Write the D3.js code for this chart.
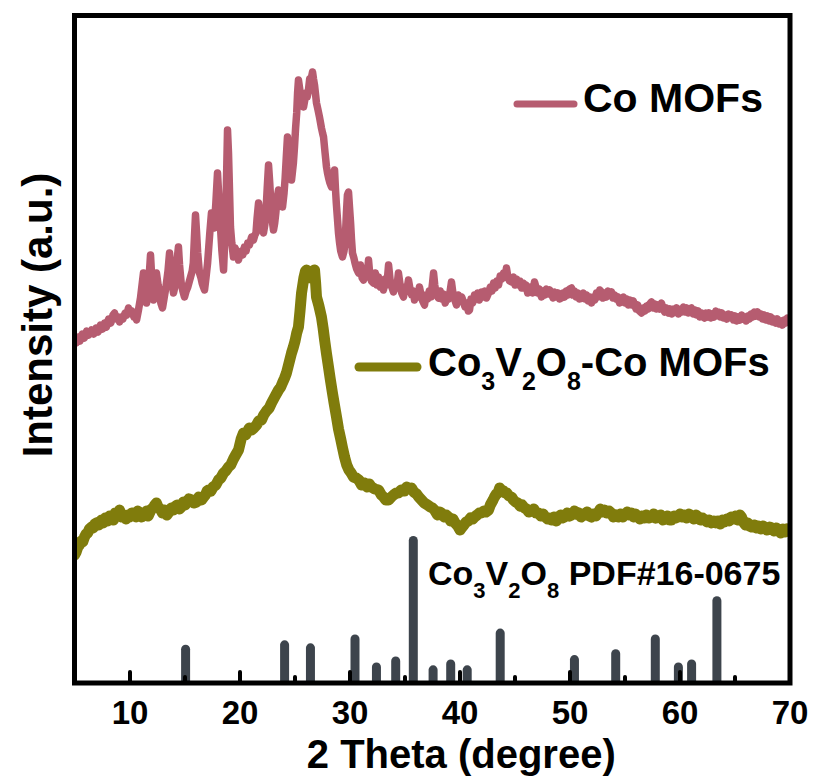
<!DOCTYPE html>
<html><head><meta charset="utf-8">
<script src="https://cdn.jsdelivr.net/npm/d3@7"></script>
<style>body{margin:0;background:#fff}svg{display:block}text{font-family:"Liberation Sans",Arial,sans-serif;font-weight:bold;fill:#000}</style>
</head><body>
<svg id="c" width="816" height="780"></svg>
<script>
// ---- DATA ----
const xTicks = [10, 20, 30, 40, 50, 60, 70];
const xMinorTicks = [15, 25, 35, 45, 55, 65];
const seriesNames = ["Co MOFs", "Co3V2O8-Co MOFs"];
// Co MOFs pattern: [2theta, intensity (a.u.)]
const coMOFs = [
[5.0,345],[5.15,340],[5.34,346],[5.5,342],[5.7,349],[5.9,345],[6.1,352],[6.3,348],[6.55,353],[6.75,349],[6.95,355],[7.15,351],[7.35,358],[7.55,354],
[7.73,360],[7.9,356],[8.1,364],[8.3,360],[8.5,368],[8.64,370],[8.8,364],[8.95,366],[9.09,361],[9.25,366],[9.4,364],[9.6,370],[9.75,368],[9.91,375],
[10.05,370],[10.2,372],[10.4,366],[10.5,368],[10.64,363],[10.8,372],
[11.0,385],[11.27,410],[11.4,392],[11.55,380],[11.75,400],[11.91,428],[12.05,400],[12.18,383],[12.3,395],[12.45,410],[12.6,398],[12.7,392],[12.85,380],[13.0,375],
[13.15,385],[13.3,395],[13.5,412],[13.64,430],[13.8,405],[14.0,390],[14.1,395],[14.2,400],[14.3,420],[14.45,436],[14.55,418],
[14.7,400],[14.85,392],[15.0,386],[15.15,392],[15.3,396],[15.45,402],[15.55,406],[15.7,412],[15.8,420],[15.9,445],[16.0,468],[16.1,450],[16.2,430],[16.36,410],
[16.5,405],[16.6,400],[16.72,396],[16.82,393],[16.95,405],[17.1,420],[17.3,450],[17.45,470],[17.6,462],[17.7,455],[17.85,480],[18.0,510],
[18.15,480],[18.27,456],[18.4,432],[18.55,413],[18.65,440],[18.75,470],[18.85,520],[18.91,553],[19.0,530],[19.05,510],[19.18,456],[19.3,440],[19.45,426],
[19.6,435],[19.7,432],[19.8,428],[19.91,423],[20.05,430],[20.2,432],[20.3,428],[20.45,436],[20.6,432],[20.75,440],[20.9,438],[21.1,446],[21.27,443],
[21.4,448],[21.5,450],[21.6,465],[21.73,480],[21.85,470],[21.95,462],[22.05,455],[22.18,450],[22.3,458],[22.4,470],[22.52,495],[22.64,518],[22.75,500],[22.85,480],
[22.95,465],[23.09,453],[23.2,460],[23.3,470],[23.42,485],[23.55,493],[23.65,488],[23.75,482],[23.91,476],[24.05,490],[24.15,505],[24.25,525],
[24.36,546],[24.45,532],[24.55,520],[24.65,510],[24.73,503],[24.82,512],[24.9,520],[25.0,536],[25.1,555],[25.2,570],[25.28,590],[25.36,603],[25.5,592],
[25.6,585],[25.72,580],[25.82,576],[25.95,584],[26.05,590],[26.15,586],[26.27,593],[26.38,604],[26.45,600],[26.55,606],[26.64,611],
[26.73,604],[26.82,598],[26.92,588],[27.0,580],[27.12,574],[27.27,566],[27.37,560],[27.45,555],[27.55,550],[27.64,546],[27.78,530],[27.91,516],[28.0,510],[28.1,505],
[28.22,500],[28.36,496],[28.5,505],[28.64,513],[28.72,495],[28.8,480],[28.9,465],[29.0,450],[29.1,440],[29.2,432],[29.36,426],
[29.5,432],[29.6,440],[29.72,470],[29.81,488],[29.91,491],[30.0,476],[30.1,460],[30.18,444],[30.27,430],[30.4,425],[30.5,420],[30.65,414],[30.82,410],
[31.0,418],[31.15,405],[31.27,403],[31.45,414],[31.6,406],[31.73,423],[31.85,408],[32.0,402],[32.18,400],[32.35,410],[32.5,398],[32.64,406],[32.8,396],
[32.95,400],[33.09,393],[33.25,404],[33.4,398],[33.55,418],[33.7,402],[33.85,396],[34.0,391],[34.15,400],[34.3,395],[34.45,410],[34.6,398],[34.75,390],
[34.91,386],[35.05,396],[35.2,392],[35.36,403],[35.5,394],[35.65,388],[35.8,392],[35.91,383],[36.05,390],[36.2,386],[36.36,396],[36.5,388],[36.65,382],
[36.82,378],[36.95,388],[37.1,384],[37.25,392],[37.4,386],[37.55,400],[37.64,410],[37.75,398],[37.9,388],[38.09,385],[38.25,392],[38.4,384],[38.55,389],
[38.7,380],[38.85,386],[39.0,384],[39.15,392],[39.27,401],[39.4,390],[39.55,384],[39.73,378],[39.9,388],[40.05,382],[40.2,386],[40.36,381],[40.5,376],
[40.65,380],[40.8,372],[40.91,373],[41.05,384],[41.2,380],[41.36,388],[41.5,384],[41.65,390],[41.8,383],[42.0,391],[42.15,386],[42.3,392],[42.45,385],
[42.64,390],[42.8,396],[42.95,392],[43.1,400],[43.25,395],[43.4,402],[43.55,398],[43.7,407],[43.85,404],[44.0,410],[44.15,406],[44.27,415],[44.4,406],
[44.55,402],[44.73,401],[44.9,406],[45.05,398],[45.2,404],[45.36,398],[45.5,402],[45.65,395],[45.8,400],[45.91,395],[46.05,398],[46.2,390],[46.35,394],
[46.5,396],[46.65,390],[46.82,401],[46.95,396],[47.1,390],[47.25,394],[47.45,386],[47.6,392],[47.75,388],[47.9,394],[48.05,389],[48.2,393],[48.36,390],
[48.5,385],[48.65,391],[48.8,386],[48.95,390],[49.1,384],[49.27,385],[49.4,390],[49.55,386],[49.7,392],[49.85,388],[50.0,394],[50.18,395],[50.3,388],
[50.45,392],[50.6,386],[50.75,390],[50.9,384],[51.09,385],[51.25,390],[51.4,384],[51.55,388],[51.7,382],[51.85,386],[52.0,380],[52.15,386],[52.3,383],
[52.45,390],[52.6,386],[52.75,393],[52.91,391],[53.05,385],[53.2,390],[53.35,386],[53.5,392],[53.65,388],[53.82,391],[53.95,385],[54.1,388],[54.25,384],
[54.4,386],[54.55,380],[54.73,381],[54.9,386],[55.05,380],[55.2,384],[55.35,378],[55.5,383],[55.65,378],[55.8,382],[55.91,378],[56.05,374],[56.2,378],
[56.35,372],[56.55,370],[56.7,375],[56.85,372],[57.0,377],[57.15,374],[57.3,379],[57.45,381],[57.6,375],[57.75,379],[57.9,374],[58.05,378],[58.2,374],
[58.36,380],[58.5,375],[58.65,371],[58.8,375],[59.0,370],[59.15,374],[59.3,369],[59.45,374],[59.6,371],[59.75,375],[59.9,369],[60.05,373],[60.18,371],
[60.35,376],[60.5,371],[60.65,375],[60.8,370],[60.95,374],[61.09,375],[61.25,369],[61.4,373],[61.55,368],[61.7,372],[61.85,366],[62.0,370],[62.15,366],
[62.27,365],[62.4,370],[62.55,366],[62.7,370],[62.85,365],[63.0,369],[63.15,366],[63.3,372],[63.45,368],[63.55,371],[63.7,366],[63.85,370],[64.0,365],
[64.15,368],[64.3,364],[64.45,369],[64.6,366],[64.73,368],[64.9,363],[65.05,367],[65.2,362],[65.35,366],[65.5,363],[65.65,368],[65.8,364],[65.91,366],
[66.05,362],[66.2,367],[66.35,364],[66.5,369],[66.65,366],[66.8,371],[66.95,367],[67.1,371],[67.25,366],[67.4,369],[67.55,364],[67.7,368],[67.85,363],
[68.0,367],[68.15,362],[68.3,366],[68.45,361],[68.6,364],[68.75,360],[68.9,364],[69.05,359],[69.2,362],[69.35,358],[69.5,363],[69.65,360],[69.8,365],[70.0,362]
];
// Co3V2O8-Co MOFs pattern
const co3v2o8CoMOFs = [
[5.0,128],[5.15,131],[5.3,136],[5.45,138],[5.6,142],[5.75,141],[5.91,146],[6.05,149],[6.2,150],[6.35,154],[6.55,156],[6.7,155],[6.85,159],[7.0,160],
[7.2,158],[7.45,163],[7.6,160],[7.8,165],[8.0,162],[8.2,167],[8.36,166],[8.55,163],[8.7,170],[8.9,168],[9.09,173],[9.3,166],[9.5,168],[9.7,164],
[9.85,168],[10.0,166],[10.2,170],[10.45,170],[10.6,166],[10.75,172],[10.91,170],[11.1,166],[11.35,168],[11.55,172],[11.7,167],[11.82,170],[12.0,174],
[12.15,175],[12.3,178],[12.45,180],[12.6,176],[12.8,174],[13.0,170],[13.18,173],[13.4,168],[13.6,171],[13.8,175],[14.0,173],[14.2,177],[14.35,178],
[14.55,174],[14.73,176],[14.9,181],[15.05,178],[15.2,180],[15.4,184],[15.64,183],[15.85,180],[16.1,181],[16.3,186],[16.55,183],[16.75,186],[16.9,188],
[17.05,192],[17.18,193],[17.4,192],[17.6,196],[17.85,198],[18.09,203],[18.3,205],[18.55,210],[18.75,212],[19.0,216],[19.2,218],[19.45,224],[19.65,228],
[19.91,233],[20.15,244],[20.36,250],[20.55,248],[20.7,251],[20.9,255],[21.09,253],[21.3,255],[21.55,258],[21.75,262],[22.0,263],[22.2,268],[22.45,272],
[22.7,275],[22.91,280],[23.2,286],[23.55,293],[23.75,296],[23.9,300],[24.1,305],[24.27,310],[24.5,320],[24.73,330],[24.9,336],[25.05,342],[25.2,350],
[25.36,356],[25.5,372],[25.64,390],[25.85,405],[26.0,412],[26.09,413],[26.3,409],[26.45,405],[26.55,406],[26.7,412],[26.82,413],[26.92,400],[27.0,386],
[27.2,378],[27.45,366],[27.6,355],[27.75,342],[27.9,330],[28.09,316],[28.25,304],[28.45,290],[28.6,280],[28.82,266],[29.0,254],[29.2,244],[29.35,236],
[29.55,226],[29.75,218],[29.95,213],[30.15,210],[30.36,206],[30.6,205],[30.85,203],[31.1,198],[31.36,200],[31.6,196],[31.8,199],[32.0,196],[32.3,194],
[32.64,193],[32.9,188],[33.1,186],[33.3,183],[33.55,183],[33.8,186],[34.0,188],[34.25,190],[34.45,190],[34.7,193],[35.0,192],[35.2,196],[35.4,194],
[35.64,195],[35.85,191],[36.1,189],[36.3,186],[36.55,183],[36.8,180],[37.1,178],[37.35,176],[37.55,175],[37.73,173],[38.0,168],[38.2,171],[38.35,170],
[38.6,166],[38.8,168],[39.0,166],[39.2,162],[39.4,164],[39.6,160],[39.85,157],[40.05,153],[40.18,155],[40.4,158],[40.6,161],[40.8,162],[41.0,165],
[41.2,164],[41.36,166],[41.6,168],[41.8,170],[42.0,170],[42.2,172],[42.4,171],[42.64,173],[42.8,178],[42.9,180],[43.05,183],[43.18,186],[43.35,189],
[43.5,190],[43.65,195],[43.82,193],[44.0,192],[44.15,190],[44.3,190],[44.5,187],[44.73,186],[44.9,183],[45.1,181],[45.3,180],[45.5,177],[45.7,178],
[45.91,175],[46.1,174],[46.3,171],[46.55,172],[46.75,174],[46.95,170],[47.18,170],[47.4,167],[47.6,169],[47.8,166],[48.0,164],[48.2,165],[48.36,163],
[48.6,166],[48.8,162],[48.95,165],[49.2,168],[49.35,165],[49.55,166],[49.8,170],[50.0,167],[50.2,168],[50.45,172],[50.6,169],[50.82,170],[51.05,166],
[51.2,169],[51.4,168],[51.6,171],[51.8,167],[52.0,166],[52.2,169],[52.4,167],[52.6,170],[52.8,174],[53.0,171],[53.18,173],[53.4,170],[53.6,172],
[53.8,170],[54.0,166],[54.2,168],[54.45,166],[54.65,169],[54.85,166],[55.05,168],[55.25,171],[55.45,168],[55.64,170],[55.85,166],[56.0,169],[56.2,167],
[56.4,164],[56.6,167],[56.82,165],[57.0,168],[57.2,165],[57.45,166],[57.65,169],[57.85,165],[58.09,166],[58.3,168],[58.5,163],[58.7,164],[58.9,167],
[59.1,163],[59.27,163],[59.5,167],[59.65,165],[59.85,166],[60.05,169],[60.25,166],[60.45,168],[60.65,165],[60.85,169],[61.1,167],[61.3,164],[61.5,168],
[61.73,166],[61.9,163],[62.1,165],[62.3,163],[62.5,161],[62.7,163],[62.91,160],[63.1,162],[63.3,160],[63.5,162],[63.7,159],[63.9,163],[64.09,161],
[64.3,164],[64.5,162],[64.7,166],[64.9,164],[65.1,167],[65.3,163],[65.5,168],[65.64,166],[65.8,161],[66.0,158],[66.2,160],[66.35,157],[66.55,156],
[66.8,158],[67.0,155],[67.15,157],[67.4,154],[67.6,157],[67.73,156],[67.95,153],[68.2,156],[68.4,155],[68.6,152],[68.8,155],[69.0,153],[69.2,150],
[69.4,154],[69.6,151],[69.8,154],[70.0,153]
];
// Co3V2O8 PDF#16-0675 reference lines: [2theta, relative intensity]
const pdfPeaks = [
[15.1,26],[24.1,29],[26.45,27],[30.5,33],[32.45,14],[34.2,18],[35.8,100],[37.6,12],[39.2,16],[40.7,12],[43.7,37],
[50.45,19],[54.2,23],[57.8,33],[59.9,14],[61.1,16],[63.4,59]
];

// ---- LAYOUT ----
const L = 74.5, R = 790, T = 15.5, B = 683;
const svg = d3.select("#c");
const x = d3.scaleLinear().domain([5, 70]).range([L, 789.5]);
const y = d3.scaleLinear().domain([0, 668]).range([B, B - 668]);
const yRef = d3.scaleLinear().domain([0, 100]).range([B, B - 147]);

svg.append("defs").append("clipPath").attr("id", "clip")
  .append("rect").attr("x", L).attr("y", T).attr("width", R - L).attr("height", B - T);

const g = svg.append("g").attr("clip-path", "url(#clip)");

// reference bars
g.selectAll("line.pdf").data(pdfPeaks).enter().append("line")
  .attr("class", "pdf")
  .attr("x1", d => x(d[0])).attr("x2", d => x(d[0]))
  .attr("y1", B + 10).attr("y2", d => yRef(d[1]) + 4.5)
  .attr("stroke", "#3d444c").attr("stroke-width", 9).attr("stroke-linecap", "round");

const line = d3.line().x(d => x(d[0])).y(d => y(d[1])).curve(d3.curveLinear);
g.append("path").datum(co3v2o8CoMOFs).attr("d", line)
  .attr("fill", "none").attr("stroke", "#807c0c").attr("stroke-width", 11)
  .attr("stroke-linejoin", "round").attr("stroke-linecap", "round");
g.append("path").datum(coMOFs).attr("d", line)
  .attr("fill", "none").attr("stroke", "#b65c70").attr("stroke-width", 7.5)
  .attr("stroke-linejoin", "round").attr("stroke-linecap", "round");

// axis ticks (inward)
const axisG = svg.append("g").attr("transform", `translate(0,${B})`);
const axis = d3.axisBottom(x).tickValues(xTicks).tickSize(-11).tickFormat(d3.format("d")).tickPadding(20);
axisG.call(axis);
axisG.select(".domain").remove();
axisG.selectAll(".tick line").attr("stroke", "#000").attr("stroke-width", 4).attr("stroke-linecap", "round");
axisG.selectAll(".tick text").attr("font-size", 33).attr("font-family", '"Liberation Sans",Arial,sans-serif')
  .attr("font-weight", "bold").attr("fill", "#000").attr("dy", null).attr("y", 41);
const minorAxis = d3.axisBottom(x).tickValues(xMinorTicks).tickSize(-6).tickFormat("");
const minorG = svg.append("g").attr("transform", `translate(0,${B})`).call(minorAxis);
minorG.select(".domain").remove();
minorG.selectAll(".tick line").attr("stroke", "#000").attr("stroke-width", 4).attr("stroke-linecap", "round");

// frame
svg.append("rect").attr("x", L).attr("y", T).attr("width", R - L).attr("height", B - T)
  .attr("fill", "none").attr("stroke", "#000").attr("stroke-width", 5);

// axis titles
svg.append("text").attr("x", (L + R) / 2 + 29).attr("y", 768).attr("text-anchor", "middle")
  .attr("font-size", 40).text("2 Theta (degree)");
svg.append("text").attr("transform", "translate(52,315) rotate(-90)").attr("text-anchor", "middle")
  .attr("font-size", 42).text("Intensity (a.u.)");

// legend
const legend = svg.append("g");
legend.append("line").attr("x1", 517).attr("x2", 574).attr("y1", 104).attr("y2", 104)
  .attr("stroke", "#b65c70").attr("stroke-width", 7).attr("stroke-linecap", "round");
legend.append("text").attr("x", 583).attr("y", 112).attr("font-size", 41).text(seriesNames[0]);
legend.append("line").attr("x1", 359).attr("x2", 417).attr("y1", 367).attr("y2", 367)
  .attr("stroke", "#807c0c").attr("stroke-width", 9).attr("stroke-linecap", "round");

function formula(sel, parts, subSize, subDy) {
  parts.forEach(p => {
    const ts = sel.append("tspan").text(p[0]);
    if (p[1]) ts.attr("font-size", subSize).attr("dy", subDy);
    else if (p[2]) ts.attr("dy", -subDy);
  });
}
const t2 = legend.append("text").attr("x", 428).attr("y", 376).attr("font-size", 40);
formula(t2, [["Co"],["3",1],["V",0,1],["2",1],["O",0,1],["8",1],["-Co MOFs",0,1]], 25, 14);

const t3 = svg.append("text").attr("x", 428).attr("y", 585).attr("font-size", 34);
formula(t3, [["Co"],["3",1],["V",0,1],["2",1],["O",0,1],["8",1],[" PDF#16-0675",0,1]], 22, 13);
</script>
</body></html>
